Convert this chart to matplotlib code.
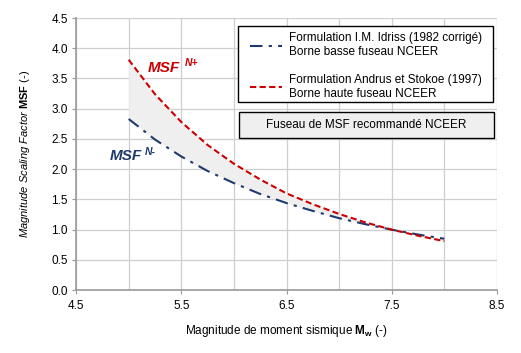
import matplotlib
matplotlib.use("Agg")
from matplotlib import pyplot as plt
from matplotlib.patches import Rectangle

plt.rcParams['font.family'] = ['Liberation Sans', 'DejaVu Sans']
plt.rcParams['mathtext.fontset'] = 'custom'
plt.rcParams['mathtext.rm'] = 'Liberation Sans'
plt.rcParams['mathtext.it'] = 'Liberation Sans:italic'
plt.rcParams['mathtext.bf'] = 'Liberation Sans:bold'

# magnitudes
mag = [5.0, 5.25, 5.5, 5.75, 6.0, 6.25, 6.5, 6.75, 7.0, 7.25, 7.5, 7.75, 8.0]
# lower bound (Idriss 1982 corrected)
msf_low = [2.83, 2.49, 2.21, 1.97, 1.77, 1.59, 1.44, 1.31, 1.19, 1.09, 1.00, 0.92, 0.85]
# upper bound (Andrus & Stokoe 1997)
msf_high = [3.81, 3.24, 2.78, 2.40, 2.09, 1.83, 1.60, 1.42, 1.26, 1.12, 1.00, 0.90, 0.81]

x_ticks = [4.5, 5.5, 6.5, 7.5, 8.5]
y_ticks = [0.0, 0.5, 1.0, 1.5, 2.0, 2.5, 3.0, 3.5, 4.0, 4.5]

navy = '#1f3a6e'
red = '#cc0000'

fig = plt.figure(figsize=(5.21, 3.53), dpi=100)
ax = fig.add_axes([0.146, 0.178, 0.808, 0.771])

ax.fill_between(mag, msf_low, msf_high, color='#efefef', lw=0, zorder=1)
l1, = ax.plot(mag, msf_low, color=navy, lw=1.5, dashes=[6, 3, 1.5, 3], zorder=3)
l2, = ax.plot(mag, msf_high, color=red, lw=1.5, dashes=[3, 1.6], zorder=4)

ax.set_xlim(4.5, 8.5)
ax.set_ylim(0, 4.5)
ax.set_xticks(x_ticks)
ax.set_xticks([5.0, 6.0, 7.0, 8.0], minor=True)
ax.set_yticks(y_ticks)
ax.set_yticklabels([f"{v:.1f}" for v in y_ticks])
ax.tick_params(labelsize=8.5, length=3, color='#999999', pad=3)
ax.tick_params(axis='x', pad=4)
ax.tick_params(which='minor', length=0)
ax.grid(True, which='both', color='#cfcfcf', lw=0.9, zorder=0)
ax.set_axisbelow(True)
for s in ['top', 'right']:
    ax.spines[s].set_visible(False)
for s in ['left', 'bottom']:
    ax.spines[s].set_color('#999999')
    ax.spines[s].set_linewidth(1.2)

ax.set_xlabel(r"Magnitude de moment sismique $\mathbf{M_w}$ (-)", fontsize=8.5, labelpad=8)
ax.set_ylabel(r"$\mathit{Magnitude\ Scaling\ Factor}$ $\mathbf{MSF}$ (-)", fontsize=8)
ax.yaxis.set_label_coords(-0.105, 0.5)

# curve labels
for xt, yt, lab, dx, c in [(5.18, 3.68, "N+", 27, red), (4.82, 2.22, "N-", 25, navy)]:
    ax.text(xt, yt, "MSF", color=c, fontsize=11, fontweight='bold',
            style='italic', va='center')
    ax.annotate(lab, xy=(xt, yt), xytext=(dx, 3), textcoords='offset points',
                color=c, fontsize=7.5, fontweight='bold', style='italic', va='center')

# legend, frame drawn separately
ax.add_patch(Rectangle((0.385, 0.691), 0.605, 0.280, transform=ax.transAxes,
                       fc='white', ec='black', lw=1.0, zorder=5))
leg = ax.legend([l1, l2],
                ["Formulation I.M. Idriss (1982 corrigé)\nBorne basse fuseau NCEER",
                 "Formulation Andrus et Stokoe (1997)\nBorne haute fuseau NCEER"],
                loc='upper left', bbox_to_anchor=(0.413, 0.947), borderaxespad=0,
                fontsize=8.5, frameon=False, handlelength=2.7, handletextpad=0.6,
                labelspacing=1.35, borderpad=0)
leg.set_zorder(6)

ax.add_patch(Rectangle((0.387, 0.559), 0.606, 0.095, transform=ax.transAxes,
                       fc='#efefef', ec='black', lw=1.0, zorder=5))
ax.text(0.690, 0.607, "Fuseau de MSF recommandé NCEER", transform=ax.transAxes,
        fontsize=8.5, ha='center', va='center', zorder=6)

fig.savefig("out.png", dpi=100)
